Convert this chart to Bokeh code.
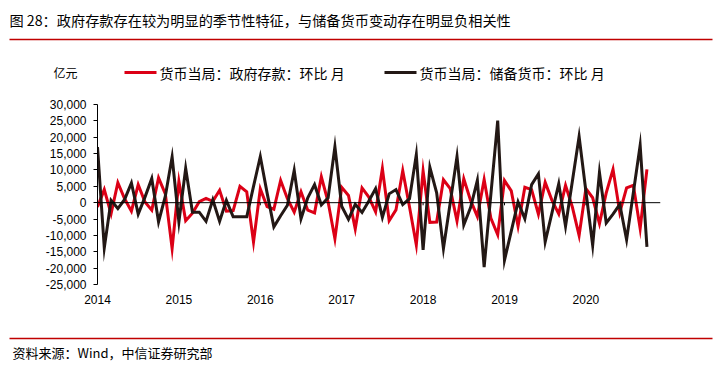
from bokeh.plotting import figure
from bokeh.layouts import column
from bokeh.models import Span, FixedTicker, Range1d, NumeralTickFormatter
from bokeh.core.properties import value
from bokeh.embed import file_html
from bokeh.resources import INLINE

# ---- data (monthly, 2014-01 .. 2020-10, 亿元) ----
years = ["2014", "2015", "2016", "2017", "2018", "2019", "2020"]
gov_deposits = [  # 货币当局：政府存款：环比 月
    -1300, 4000, -3400, 6100, 1200, -2600, 5500, 200, -2300, 7600, 2700, -14000,
    6500, -5500, -3200, 300, 1300, 400, 3800, -2600, -2400, 5000, 3300, -12000,
    4200, -1200, -2000, 6800, 1200, -2900, 3300, -2300, -3100, 7900, 200, -11000,
    4700, 2200, -8000, 4500, 1700, -2800, 10400, -5500, -2200, 9800, -1300, -12900,
    9700, -6000, -5900, 7000, 4300, -5600, 7300, 700, -4200, 7100, -4800, -9800,
    6800, 3600, -7200, 4700, 4000, -3500, 6200, 700, -3400, 5300, -1300, -10000,
    4300, 1500, -6400, 3000, 10200, -3000, 4500, 5300, -7900, 10200,
]
reserve_money = [  # 货币当局：储备货币：环比 月
    17000, -13800, 700, -1800, 1000, 6000, -3500, 1700, 7400, -5900, 2000, 14000,
    -5900, 10500, -2900, -2900, -5700, 900, -5700, 700, -4300, -4300, -4300, 5000,
    14100, 3000, -7400, -4000, -800, 9900, -4900, 1500, 5500, -700, 1500, 17100,
    -1100, -5100, -500, -3000, 500, 4300, -4500, 2700, 4000, -600, 1200, 14700,
    -14400, 10800, 3000, -14000, 0, 14100, -6800, -1500, 6800, -19700, 2700, 25100,
    -17600, -8700, 200, -4900, 5500, 8800, -12000, -3100, 5800, -7200, 6500, 20200,
    3500, -13000, 9200, -6200, -3500, -500, -11300, 3100, 17500, -13500,
]
y_ticks = list(range(-25000, 30001, 5000))
title_text = "图 28：政府存款存在较为明显的季节性特征，与储备货币变动存在明显负相关性"
unit_text = "亿元"
series_names = ["货币当局：政府存款：环比 月", "货币当局：储备货币：环比 月"]
source_text = "资料来源：Wind，中信证券研究部"

RED = "#DC0016"
BLACK = "#231815"
LINE_RED = "#C00000"
CJK = "Noto Sans CJK SC"
LAT = "Liberation Sans"
W = 713


def blank(height):
    f = figure(width=W, height=height, output_backend="svg", toolbar_location=None,
               x_range=Range1d(0, W), y_range=Range1d(height, 0),
               min_border=0, x_axis_location=None, y_axis_location=None,
               frame_align=False)
    f.outline_line_color = None
    f.xgrid.visible = False
    f.ygrid.visible = False
    f.background_fill_color = "white"
    f.border_fill_color = "white"
    return f


# ---- header: title, rule, unit and legend ----
top = blank(90)
top.text(x=[9], y=[19], text=[title_text], text_font=value(CJK),
         text_font_size=value("14.2px"), text_baseline="middle", text_color="black")
top.line(x=[9, 712], y=[39, 39], line_color=LINE_RED, line_width=1.5)
top.text(x=[53], y=[72], text=[unit_text], text_font=value(CJK),
         text_font_size=value("12px"), text_baseline="middle", text_color="black")
top.line(x=[124, 156], y=[72, 72], line_color=RED, line_width=3)
top.line(x=[384, 416], y=[72, 72], line_color=BLACK, line_width=3)
top.text(x=[159, 419], y=[72, 72], text=series_names, text_font=value(CJK),
         text_font_size=value("14px"), text_baseline="middle", text_color="black")

# ---- main chart ----
months = list(range(len(gov_deposits)))
year_pos = [12 * i for i in range(len(years))]

p = figure(width=W, height=240, output_backend="svg", toolbar_location=None,
           x_range=Range1d(0, 83), y_range=Range1d(-25000, 30000),
           min_border_left=97, min_border_right=53, min_border_top=14, min_border_bottom=46,
           frame_align=False)
p.outline_line_color = None
p.background_fill_color = "white"
p.border_fill_color = "white"
p.xgrid.visible = False
p.ygrid.visible = False

p.add_layout(Span(location=0, dimension="width", line_color="black", line_width=1))
p.segment(x0=year_pos, y0=[0] * len(year_pos), x1=year_pos, y1=[-800] * len(year_pos),
          line_color="black", line_width=1)

p.line(months, gov_deposits, line_color=RED, line_width=3, line_join="miter")
p.line(months, reserve_money, line_color=BLACK, line_width=3, line_join="miter")

p.yaxis.ticker = FixedTicker(ticks=y_ticks)
p.yaxis.formatter = NumeralTickFormatter(format="0,0")
p.yaxis.minor_tick_line_color = None
p.yaxis.major_tick_in = 0
p.yaxis.major_tick_out = 4
p.yaxis.axis_line_color = "black"
p.yaxis.major_tick_line_color = "black"
p.yaxis.major_label_standoff = 7
p.yaxis.major_label_text_font = LAT
p.yaxis.major_label_text_font_size = "12px"
p.yaxis.major_label_text_color = "black"

p.xaxis.ticker = FixedTicker(ticks=year_pos)
p.xaxis.major_label_overrides = {pos: y for pos, y in zip(year_pos, years)}
p.xaxis.axis_line_color = None
p.xaxis.major_tick_line_color = None
p.xaxis.minor_tick_line_color = None
p.xaxis.major_tick_in = 0
p.xaxis.major_tick_out = 0
p.xaxis.major_label_standoff = 10
p.xaxis.major_label_text_font = LAT
p.xaxis.major_label_text_font_size = "12px"
p.xaxis.major_label_text_color = "black"

# ---- footer: rule and source ----
bottom = blank(35)
bottom.line(x=[9, 712], y=[8, 8], line_color=LINE_RED, line_width=1.5)
bottom.text(x=[12], y=[22], text=[source_text], text_font=value(CJK),
            text_font_size=value("13px"), text_baseline="middle", text_color="black")

layout = column(top, p, bottom, spacing=0)
open("out.html", "w").write(file_html(layout, INLINE))
